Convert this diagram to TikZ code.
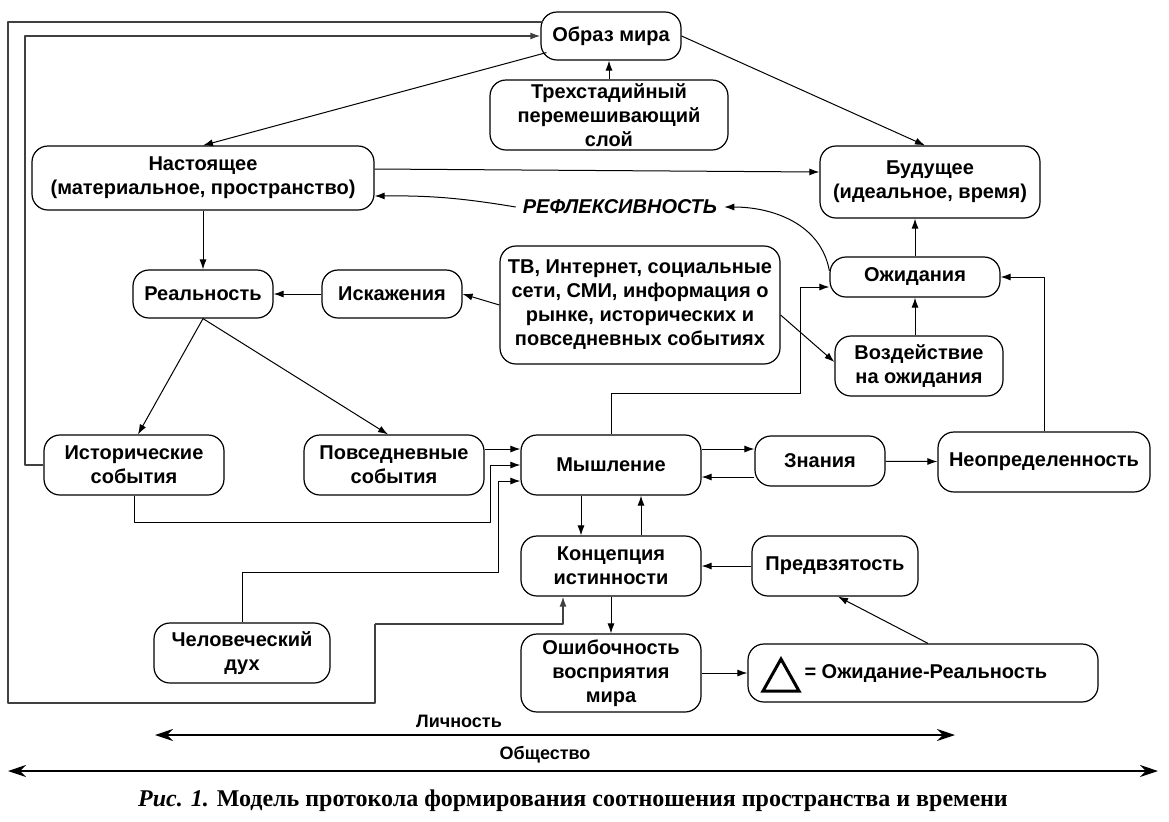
\documentclass[tikz,border=0pt]{standalone}
\usepackage{fontspec}
\setmainfont{Liberation Sans}
\newfontfamily\capfont{Liberation Serif}
\usetikzlibrary{arrows.meta, positioning, calc}

\begin{document}
\begin{tikzpicture}[x=.5pt, y=-.5pt, line join=bevel, line width=.5pt,
  blk/.style={draw, line width=.6pt, rounded corners=8pt, align=center, font=\bfseries, inner sep=0pt},
  arr/.style={-{Latex[length=5pt,width=3.5pt]}},
  ax/.style={{Stealth[length=9pt,width=6pt]}-{Stealth[length=9pt,width=6pt]}, line width=.9pt}]

\useasboundingbox (0,0) rectangle (1169,821);

% boxes
\node[blk, minimum width=70pt, minimum height=24pt] (obraz) at (611,36) {Образ мира};
\node[blk, minimum width=119pt, minimum height=35pt] (sloy) at (609,115) {Трехстадийный\\перемешивающий\\слой};
\node[blk, minimum width=171pt, minimum height=32pt] (nast) at (203,178) {Настоящее\\(материальное, пространство)};
\node[blk, minimum width=110pt, minimum height=36pt] (bud) at (930,182) {Будущее\\(идеальное, время)};
\node[font=\bfseries\itshape] (refl) at (620,207) {РЕФЛЕКСИВНОСТЬ};
\node[blk, minimum width=70pt, minimum height=24pt] (real) at (203,294) {Реальность};
\node[blk, minimum width=70pt, minimum height=24pt] (isk) at (392,294) {Искажения};
\node[blk, minimum width=140pt, minimum height=59pt] (tv) at (640,305) {ТВ, Интернет, социальные\\сети, СМИ, информация о\\рынке, исторических и\\повседневных событиях};
\node[blk, minimum width=85pt, minimum height=20pt] (ozh) at (915,277) {Ожидания};
\node[blk, minimum width=84pt, minimum height=30pt] (vozd) at (919,366) {Воздействие\\на ожидания};
\node[blk, minimum width=90pt, minimum height=30pt] (ist) at (134,465) {Исторические\\события};
\node[blk, minimum width=90pt, minimum height=30pt] (pov) at (394,465) {Повседневные\\события};
\node[blk, minimum width=90pt, minimum height=30pt] (mysh) at (611,465) {Мышление};
\node[blk, minimum width=65pt, minimum height=25pt] (zn) at (820,461) {Знания};
\node[blk, minimum width=106pt, minimum height=30pt] (neop) at (1044,462) {Неопределенность};
\node[blk, minimum width=90pt, minimum height=30pt] (konc) at (611,566) {Концепция\\истинности};
\node[blk, minimum width=83pt, minimum height=30pt] (pred) at (835,566) {Предвзятость};
\node[blk, minimum width=88pt, minimum height=30pt] (dukh) at (242,653) {Человеческий\\дух};
\node[blk, minimum width=90pt, minimum height=39pt] (osh) at (611,673) {Ошибочность\\восприятия\\мира};
\node[blk, minimum width=175pt, minimum height=29pt] (delta) at (923,673) {};
\node[font=\bfseries, anchor=west, inner sep=0pt] (dtxt) at (804,673) {= Ожидание-Реальность};
\draw[line width=1.5pt, line join=miter] (763,691) -- (781,659) -- (799,691) -- cycle;

% outer loops
\coordinate (b1) at (8,703);
\coordinate (b2) at (375,624);
\draw[line width=.7pt, black!75] ([xshift=1.5pt]obraz.west |- 0,22) -| (b1) -| (b2);
\draw[arr, line width=.7pt, black!75] (b2) -| ([xshift=-24pt]konc.south);
\draw[arr, line width=.7pt, black!75] (ist.west) -| (25,36) -- (obraz.west);

% top part
\draw[arr] ([xshift=3pt,yshift=4pt]obraz.south west) -- (nast.north);
\draw[arr] (obraz.east) -- ([xshift=-2.5pt]bud.north);
\draw[arr] (sloy.north) -- (sloy.north |- obraz.south);
\draw[arr] ([yshift=4.5pt]nast.east) -- ([yshift=5pt]bud.west);
\draw[arr] (refl.west) to[bend right=5] ([yshift=-9pt]nast.east);
\draw[arr] ([yshift=3pt]ozh.west) to[out=100, in=0] (refl.east);
\draw[arr] (ozh.north) -- (ozh.north |- bud.south);
\draw[arr] (vozd.north -| ozh) -- (ozh.south);
\draw[arr] (neop.north) |- (ozh.east);
\coordinate (m1) at (800,393);
\draw[arr] (mysh.north) |- (m1) |- ([yshift=-5pt]ozh.west);
\draw[arr] (tv.west) -- (isk.east);
\draw[arr] ([yshift=-5pt]tv.east) -- ([yshift=2pt]vozd.west);

% middle part
\draw[arr] (isk) -- (real);
\draw[arr] (nast) -- (real);
\draw[arr] (real.south) -- ([xshift=2pt]ist.north);
\draw[arr] (real.south) -- ([xshift=-3pt]pov.north);
\draw[arr] ([yshift=8pt]pov.east) -- ([yshift=8pt]pov.east -| mysh.west);
\coordinate (m2) at (490,522);
\draw[arr] (ist.south) |- (m2) |- (mysh.west);
\coordinate (m3) at (498,572);
\draw[arr] (dukh.north) |- (m3) |- ([yshift=-8pt]mysh.west);
\draw[arr] ([xshift=-15pt]mysh.south) -- ([xshift=-15pt]konc.north);
\draw[arr] ([xshift=15pt]konc.north) -- ([xshift=15pt]mysh.south);
\draw[arr] ([yshift=8pt]mysh.east) -- ([yshift=8pt]mysh.east -| zn.west);
\draw[arr] ([yshift=-8pt]zn.west) -- ([yshift=-8pt]zn.west -| mysh.east);
\draw[arr] (zn) -- (neop);

% bottom part
\draw[arr] (pred) -- (konc);
\draw[arr] (konc) -- (osh);
\draw[arr] (osh) -- (delta);
\draw[arr] ([xshift=2.5pt]delta.north) -- ([xshift=1.5pt]pred.south);

% axes
\coordinate (l1) at (155,735);
\coordinate (l2) at (955,735);
\coordinate (s1) at (8,771);
\coordinate (s2) at (1158,771);
\draw[ax] (l1) -- node[pos=.38, above, font=\bfseries\small] (lich) {Личность} (l2);
\draw[ax] (s1) -- node[pos=.467, above, font=\bfseries\small] (obsh) {Общество} (s2);

\node (cap) at (573,801) {\capfont\bfseries\fontsize{12}{14}\selectfont\textit{Рис. 1.} Модель протокола формирования соотношения пространства и времени};

\end{tikzpicture}
\end{document}
